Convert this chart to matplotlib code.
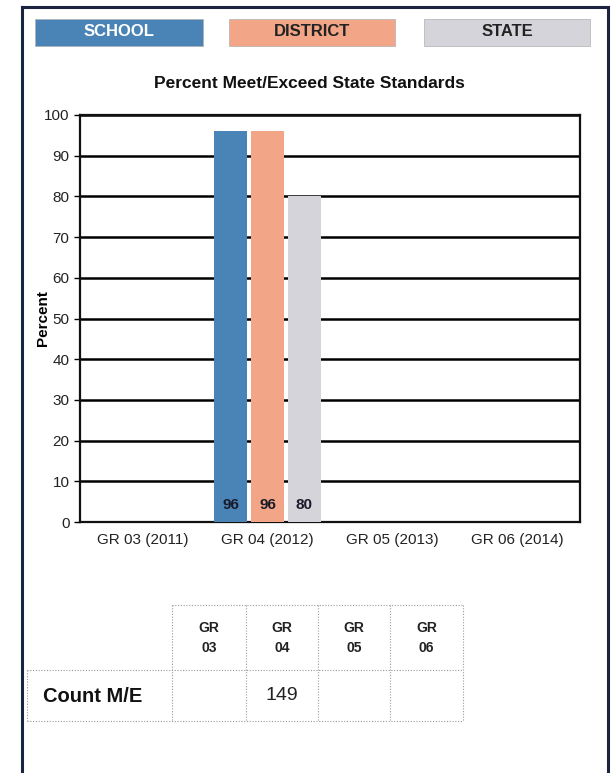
import matplotlib
matplotlib.use('Agg')
import matplotlib.pyplot as plt
from matplotlib.patches import Rectangle
from matplotlib.lines import Line2D
import numpy as np

plt.rcParams['font.family'] = ['Liberation Sans', 'DejaVu Sans']

# data
grades = ['GR 03 (2011)', 'GR 04 (2012)', 'GR 05 (2013)', 'GR 06 (2014)']
series_names = ['SCHOOL', 'DISTRICT', 'STATE']
school = [np.nan, 96, np.nan, np.nan]
district = [np.nan, 96, np.nan, np.nan]
state = [np.nan, 80, np.nan, np.nan]
table_cols = ['GR\n03', 'GR\n04', 'GR\n05', 'GR\n06']
count_me = ['', '149', '', '']

colors = ['#4a84b6', '#f3a588', '#d4d4da']
text_colors = ['white', '#222222', '#222222']

W, H = 616, 773
fig = plt.figure(figsize=(W / 100, H / 100), dpi=100)

def fx(px):
    return px / W

def fy(py):
    return 1 - py / H

# outer frame
frame_kw = dict(color='#1a2440', lw=2.2, transform=fig.transFigure)
fig.add_artist(Line2D([fx(22), fx(22)], [fy(7), 0], **frame_kw))
fig.add_artist(Line2D([fx(22), fx(608)], [fy(7), fy(7)], **frame_kw))
fig.add_artist(Line2D([fx(608), fx(608)], [fy(7), 0], **frame_kw))

# legend boxes across the top
boxes = [(35, 203), (229, 395), (424, 590)]
for (x0, x1), name, c, tc in zip(boxes, series_names, colors, text_colors):
    fig.add_artist(Rectangle((fx(x0), fy(46)), fx(x1 - x0), (46 - 19) / H,
                             transform=fig.transFigure, facecolor=c,
                             edgecolor='#b0b0b0', lw=0.5))
    fig.text(fx((x0 + x1) / 2), fy(32), name, ha='center', va='center',
             fontsize=12, fontweight='bold', color=tc)

fig.text(fx(309), fy(84), 'Percent Meet/Exceed State Standards', ha='center',
         va='center', fontsize=12.5, fontweight='bold', color='#111111')

# bar chart
ax = fig.add_axes([fx(80), fy(522), fx(500), (522 - 115) / H])
x = np.arange(len(grades))
width = 0.265
gap = 0.03
for i, (vals, c) in enumerate(zip([school, district, state], colors)):
    pos = x + (i - 1) * (width + gap)
    ax.bar(pos, vals, width, color=c, zorder=3)
    for p, v in zip(pos, vals):
        if not np.isnan(v):
            ax.text(p, 2.5, f'{v:.0f}', ha='center', va='bottom', fontsize=11,
                    fontweight='bold', color='#1a1a2a', zorder=4)

ax.set_xlim(-0.5, 3.5)
ax.set_ylim(0, 100)
ax.set_yticks(range(0, 101, 10))
ax.yaxis.grid(True, color='black', lw=1.8, zorder=0)
ax.set_axisbelow(True)
ax.set_xticks(x)
ax.set_xticklabels(grades, fontsize=11, color='#222222')
ax.tick_params(axis='x', length=0, pad=8)
ax.tick_params(axis='y', length=4, width=1, labelsize=11, labelcolor='#222222')
for s in ax.spines.values():
    s.set_color('#111111')
    s.set_linewidth(1.6)
fig.text(fx(43), fy(318), 'Percent', rotation=90, ha='center', va='center',
         fontsize=11, fontweight='bold')

# count table
dot = dict(color='#9a9a9a', lw=0.8, ls=(0, (1, 1.5)), transform=fig.transFigure)
col_x = [172, 246, 318, 390, 463]
top, mid, bot = 605, 670, 721
for cx in col_x:
    fig.add_artist(Line2D([fx(cx), fx(cx)], [fy(top), fy(bot)], **dot))
fig.add_artist(Line2D([fx(27), fx(27)], [fy(mid), fy(bot)], **dot))
fig.add_artist(Line2D([fx(172), fx(463)], [fy(top), fy(top)], **dot))
fig.add_artist(Line2D([fx(27), fx(463)], [fy(mid), fy(mid)], **dot))
fig.add_artist(Line2D([fx(27), fx(463)], [fy(bot), fy(bot)], **dot))

for i, label in enumerate(table_cols):
    cx = (col_x[i] + col_x[i + 1]) / 2
    fig.text(fx(cx), fy(638), label, ha='center', va='center', fontsize=10,
             fontweight='bold', linespacing=1.5, color='#222222')
    if count_me[i]:
        fig.text(fx(cx), fy(695), count_me[i], ha='center', va='center',
                 fontsize=14, color='#222222')
fig.text(fx(43), fy(697), 'Count M/E', ha='left', va='center', fontsize=14.5,
         fontweight='bold', color='#111111')

fig.savefig('out.png', dpi=100)
